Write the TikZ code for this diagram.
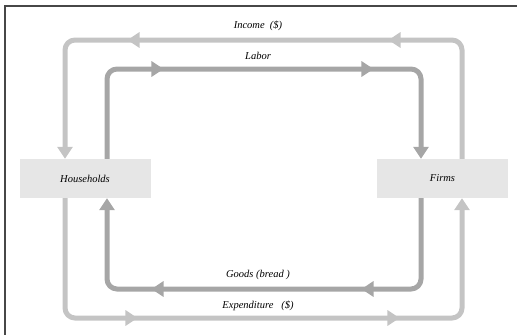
\documentclass[tikz,border=0pt]{standalone}
\usepackage{fontspec}
\setmainfont{Liberation Serif}
\usepackage{tikz}
\usetikzlibrary{arrows.meta,decorations.markings}
\usepackage{xcolor}
\definecolor{framegray}{HTML}{474747}
\definecolor{moneygray}{HTML}{C4C4C4}
\definecolor{realgray}{HTML}{A6A6A6}
\definecolor{boxgray}{HTML}{E6E6E6}

\begin{document}
\begin{tikzpicture}[x=1pt, y=-1pt,
   sector/.style={fill=boxgray, minimum width=131pt, minimum height=39pt, inner sep=0pt,
      font=\fontsize{10.5}{12}\selectfont\itshape},
   flowlabel/.style={font=\fontsize{10.5}{12}\selectfont\itshape},
   flowtip/.style={-{Triangle[length=12pt,width=15pt]}},
   moneyflow/.style={draw=moneygray, line width=5pt, rounded corners=10pt, flowtip},
   realflow/.style={draw=realgray, line width=5pt, rounded corners=10pt, flowtip},
   midtips/.style 2 args={postaction={decorate}, decoration={markings,
      mark=at position #1 with {\arrow{Triangle[length=12pt,width=15pt]}},
      mark=at position #2 with {\arrow{Triangle[length=12pt,width=15pt]}}}}
]
   % page size
   \useasboundingbox (0,0) rectangle (517,335);

   % frame
   \draw[framegray, line width=1.2pt] (517,6) -- (5,6) -- (5,335);

   % sectors
   \node[sector] (Households) at (85,178.5) {Households};
   \node[sector] (Firms) at (442.5,178.5) {Firms};

   % corners of the loops
   \coordinate (IL) at (65,40);
   \coordinate (LR) at (421,69);
   \coordinate (GL) at (107,289);
   \coordinate (ER) at (462,318);

   % money loop
   \draw[moneyflow, midtips={188pt}{449pt}]
      ([xshift=19.5pt]Firms.north) |- (IL) -- ([xshift=-20pt]Households.north);
   \draw[moneyflow, midtips={188pt}{450pt}]
      ([xshift=-20pt]Households.south) |- (ER) -- ([xshift=19.5pt]Firms.south);

   % goods and labor loop
   \draw[realflow, midtips={142pt}{352pt}]
      ([xshift=22pt]Households.north) |- (LR) -- ([xshift=-21.5pt]Firms.north);
   \draw[realflow, midtips={146pt}{356pt}]
      ([xshift=-21.5pt]Firms.south) |- (GL) -- ([xshift=22pt]Households.south);

   % labels
   \node[flowlabel] (income) at (258,26) {Income~ (\$)};
   \node[flowlabel] (labor) at (258,56) {Labor};
   \node[flowlabel] (goods) at (258,275) {Goods~(bread~)};
   \node[flowlabel] (expend) at (258,306) {Expenditure~~ (\$)};
\end{tikzpicture}
\end{document}
